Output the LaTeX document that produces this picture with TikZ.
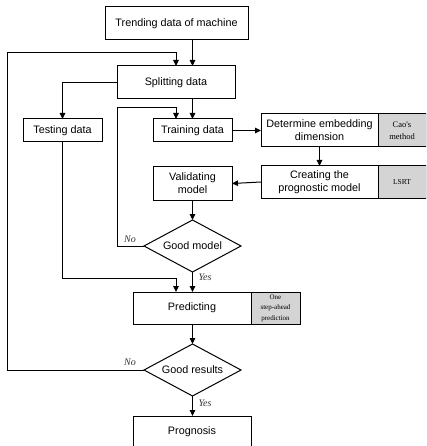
\documentclass[tikz,border=0pt]{standalone}
\usepackage{fontspec}
\setmainfont{Liberation Sans}
\newfontfamily\serifx{Liberation Serif}
\usetikzlibrary{arrows.meta,shapes.geometric,calc}
\begin{document}
\begin{tikzpicture}[x=1pt,y=-1pt,
  every node/.style={inner sep=0pt,outer sep=0pt},
  box/.style={draw,line width=1pt,fill=white,align=center,font=\fontsize{10.8}{13}\selectfont},
  grey/.style={draw,line width=1pt,fill=black!17,align=center,font=\serifx\fontsize{8.5}{11.5}\selectfont},
  dec/.style={draw,line width=1pt,diamond,aspect=1.85,minimum width=97pt,minimum height=52pt,font=\fontsize{10.8}{13}\selectfont},
  lbl/.style={font=\serifx\itshape\fontsize{10}{11}\selectfont,text=black!80},
  arr/.style={line width=1pt,-{Triangle[length=6pt,width=5.5pt]}}]
\clip (0,0) rectangle (426,446);
\node[box,minimum width=143pt,minimum height=33pt] (trend) at (176.5,23.5) {Trending data of machine};
\node[box,minimum width=118pt,minimum height=33pt] (split) at (176,82.5) {Splitting data};
\node[box,minimum width=79pt,minimum height=23pt] (test) at (62.5,130.5) {Testing data};
\node[box,minimum width=79pt,minimum height=23pt] (train) at (192.5,130.5) {Training data};
\node[box,minimum width=117pt,minimum height=33pt] (determ) at (319.5,130.5) {Determine embedding\\dimension};
\node[grey,minimum width=48pt,minimum height=33pt] (cao) at (402,130.5) {Cao's\\method};
\node[box,minimum width=117pt,minimum height=32pt] (creat) at (319.5,182) {Creating the\\prognostic model};
\node[grey,minimum width=48pt,minimum height=32pt,font=\serifx\fontsize{7.5}{9}\selectfont] (lsrt) at (402,182) {LSRT};
\node[box,minimum width=79pt,minimum height=33pt] (valid) at (192.5,183.5) {Validating\\model};
\node[dec] (gmodel) at (192.5,246) {Good model};
\node[box,minimum width=118pt,minimum height=32pt] (pred) at (192,308) {Predicting};
\node[grey,minimum width=49pt,minimum height=32pt,font=\serifx\fontsize{7}{10.5}\selectfont] (one) at (275.5,308) {One\\step-ahead\\prediction};
\node[dec] (gres) at (192.5,370) {Good results};
\node[box,minimum width=118pt,minimum height=32pt] (prog) at (192,432) {Prognosis};
\coordinate (lt) at (7,53);
\coordinate (nt) at (117,108);
\coordinate (tb) at (62.5,278);
% spine
\draw[arr] (trend.south -| train.north) -- (split.north -| train.north);
\draw[arr] (split.south -| train.north) -- (train.north);
\draw[arr] (split.west) -| (test.north);
\draw[arr] (train.east) -- (determ.west);
\draw[arr] (determ.south) -- (creat.north);
\draw[arr] (creat.west) -- (valid.east);
\draw[arr] (valid.south) -- (gmodel.north);
\draw[arr] (gmodel.south) -- (gmodel.south |- pred.north);
\draw[arr] (pred.south -| gres.north) -- (gres.north);
\draw[arr] (gres.south) -- (gres.south |- prog.north);
% loops
\draw[arr] (gmodel.west) -| (nt) -- (nt -| split.north) -- (split.north |- train.north);
\draw[arr] (test.south) -- (tb) -- (tb -| split.north) -- (split.north |- pred.north);
\draw[arr] (gres.west) -| (lt) -- (lt -| split.north) -- (split.north);
% labels
\node[lbl] (no1) at (130,239) {No};
\node[lbl] (yes1) at (205,277) {Yes};
\node[lbl] (no2) at (130,362) {No};
\node[lbl] (yes2) at (205,403) {Yes};
\end{tikzpicture}
\end{document}
